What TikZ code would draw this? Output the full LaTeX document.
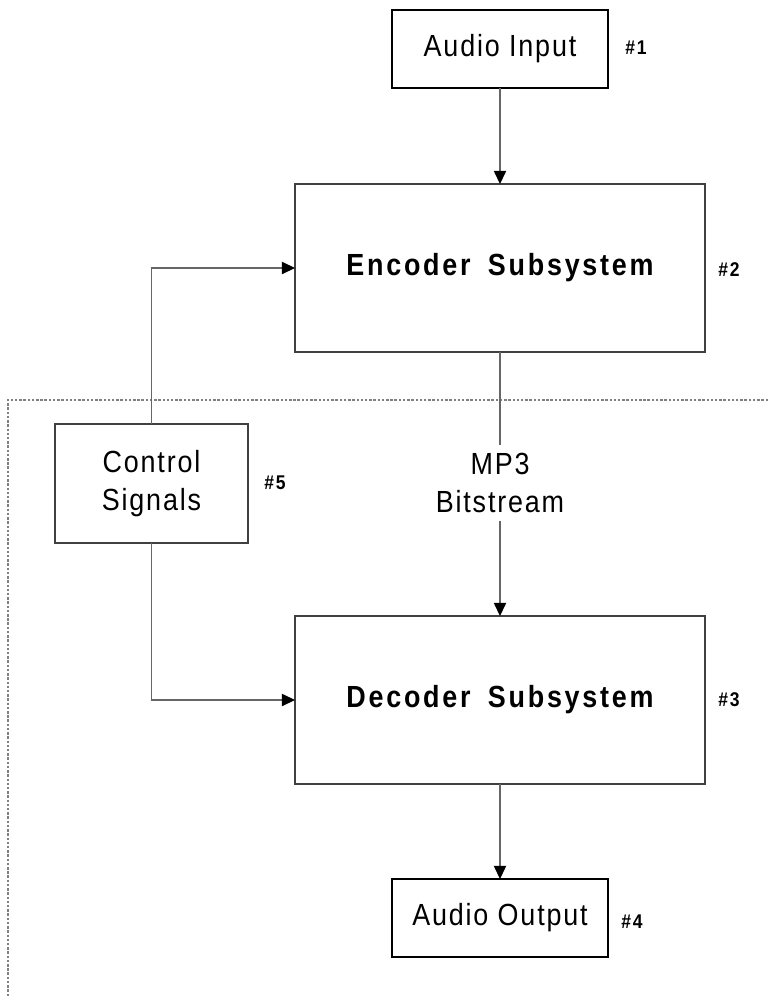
\documentclass[tikz,border=0pt]{standalone}
\usepackage{fontspec}
\setmainfont{Liberation Sans}[LetterSpace=6,FakeStretch=0.88,BoldFeatures={LetterSpace=9,WordSpace=1.7}]
\usetikzlibrary{arrows.meta}

\tikzset{
  block/.style={draw=black!75,line width=0.8pt,inner sep=0pt,outer sep=0pt,
    align=center,font=\fontsize{17.4}{21.5}\selectfont},
  tag/.style={font=\fontsize{11.3}{13}\selectfont\bfseries},
  link/.style={draw=black!60,line width=0.6pt},
  tip/.style={-{Triangle[length=7.5pt,width=7pt,color=black]}}
}

\begin{document}
\begin{tikzpicture}[x=0.02cm,y=-0.02cm]

    \useasboundingbox (0,0) rectangle (768,998);

    % Boundary (dotted) --------------------------------------------
    \draw[black!50,line width=0.6pt,dash pattern=on 1.4pt off 1pt]
      (768,400) -- (8,400) -- (8,998);

    % Blocks -------------------------------------------------------
    \node[block,draw=black,line width=1pt,minimum width=4.32cm,minimum height=1.56cm]
      (input) at (500,49) {Audio Input};
    \node[block,minimum width=8.2cm,minimum height=3.36cm]
      (encoder) at (500,268) {\bfseries Encoder Subsystem};
    \node[block,minimum width=3.86cm,minimum height=2.38cm]
      (control) at (151.5,483.5) {Control\\Signals};
    \node[block,minimum width=8.2cm,minimum height=3.36cm]
      (decoder) at (500,700) {\bfseries Decoder Subsystem};
    \node[block,draw=black,line width=1pt,minimum width=4.32cm,minimum height=1.56cm]
      (output) at (500,918) {Audio Output};

    % Bitstream label
    \node[block,draw=none,inner sep=4.5pt] (bits) at (500,483) {MP3\\Bitstream};

    % Tags ---------------------------------------------------------
    \node[tag] (t1) at (636,48) {\#1};
    \node[tag] (t2) at (729,270) {\#2};
    \node[tag] (t3) at (729,700) {\#3};
    \node[tag] (t4) at (632,922) {\#4};
    \node[tag] (t5) at (275,483) {\#5};

    % Connectors ---------------------------------------------------
    \draw[link,tip] (input) -- (encoder);
    \draw[link] (encoder) -- (bits);
    \draw[link,tip] (bits) -- (decoder);
    \draw[link,tip] (decoder) -- (output);
    \draw[link,tip] (control.north) |- (encoder.west);
    \draw[link,tip] (control.south) |- (decoder.west);

  \end{tikzpicture}
\end{document}
